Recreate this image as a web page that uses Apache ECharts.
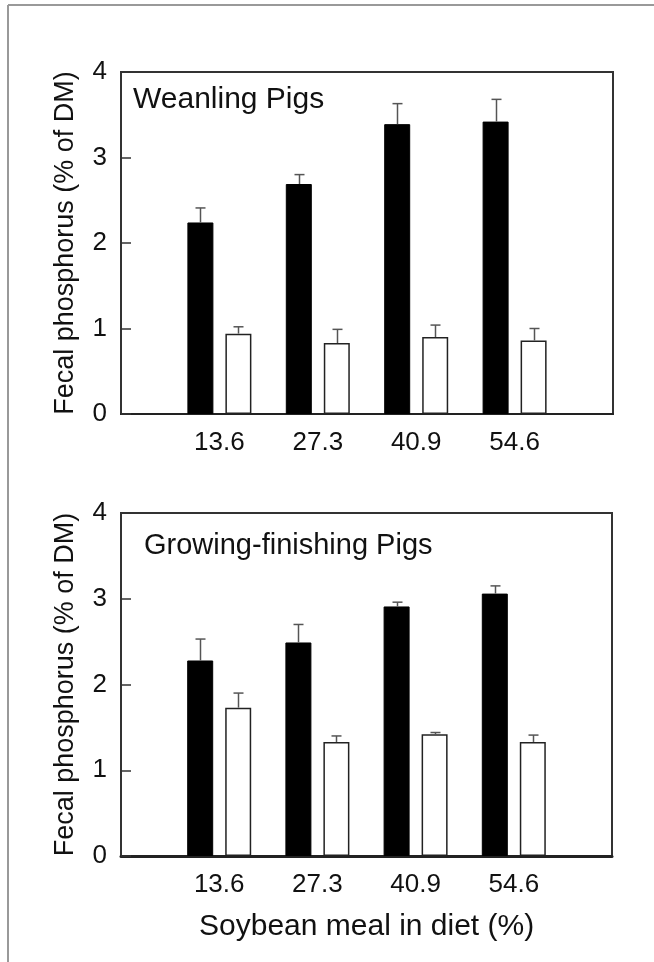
<!DOCTYPE html>
<html>
<head>
<meta charset="utf-8">
<script src="https://cdn.jsdelivr.net/npm/echarts@6/dist/echarts.min.js"></script>
<style>
html,body{margin:0;padding:0;background:#fff;}
#chart{width:654px;height:962px;}
</style>
</head>
<body>
<div id="chart"></div>
<script>
// ---- data ----
const categories = ['13.6', '27.3', '40.9', '54.6'];
const weanBlack = [2.24, 2.69, 3.39, 3.42];
const weanBlackSE = [0.17, 0.11, 0.24, 0.26];
const weanWhite = [0.94, 0.83, 0.90, 0.86];
const weanWhiteSE = [0.08, 0.16, 0.14, 0.14];
const growBlack = [2.28, 2.49, 2.91, 3.06];
const growBlackSE = [0.25, 0.21, 0.05, 0.09];
const growWhite = [1.73, 1.33, 1.42, 1.33];
const growWhiteSE = [0.17, 0.07, 0.02, 0.08];
const yMin = 0, yMax = 4, yStep = 1;
const panelTitles = ['Weanling Pigs', 'Growing-finishing Pigs'];
const yAxisTitle = 'Fecal phosphorus (% of DM)';
const xAxisTitle = 'Soybean meal in diet (%)';

// ---- styling ----
const FONT = 'Liberation Sans, Arial, sans-serif';
const TXT = '#111';
const BAR_W = 26;
const BAR_GAP = 12;
const OFFSET = (BAR_W + BAR_GAP) / 2;
const axisCats = [''].concat(categories, ['']);

function pts(vals) { return vals.map((v, i) => [i + 1, v]); }
function errPts(vals, se) { return vals.map((v, i) => [i + 1, v, +(v + se[i]).toFixed(3)]); }
function errRender(offset) {
  return function (params, api) {
    const x = api.value(0);
    const base = api.coord([x, api.value(1)]);
    const top = api.coord([x, api.value(2)]);
    const cx = Math.round(base[0] + offset) + 0.5;
    const st = { stroke: '#555', lineWidth: 1.5 };
    return {
      type: 'group',
      children: [
        { type: 'line', shape: { x1: cx, y1: base[1], x2: cx, y2: top[1] }, style: st },
        { type: 'line', shape: { x1: cx - 5, y1: top[1], x2: cx + 5, y2: top[1] }, style: st }
      ]
    };
  };
}

function xAxisCfg(gi, lineW) {
  return {
    type: 'category', gridIndex: gi, data: axisCats, boundaryGap: false,
    axisLine: { show: true, lineStyle: { color: '#222', width: lineW } },
    axisTick: { show: false },
    axisLabel: { interval: 0, color: TXT, fontSize: 26, fontFamily: FONT, margin: 16 },
    splitLine: { show: false }
  };
}
function yAxisCfg(gi) {
  return {
    type: 'value', gridIndex: gi, min: yMin, max: yMax, interval: yStep,
    name: yAxisTitle, nameLocation: 'middle', nameGap: 42,
    nameTextStyle: { fontSize: 27, fontFamily: FONT, color: TXT },
    axisLine: { show: true, lineStyle: { color: '#333', width: 2 } },
    axisTick: { show: true, inside: true, length: 10, lineStyle: { color: '#333', width: 1.5 } },
    axisLabel: { color: TXT, fontSize: 26, fontFamily: FONT, margin: 14 },
    splitLine: { show: false }
  };
}
function barSeries(gi, vals, filled) {
  return {
    type: 'bar', xAxisIndex: gi, yAxisIndex: gi, data: pts(vals),
    barWidth: BAR_W, barGap: (BAR_GAP / BAR_W * 100) + '%',
    itemStyle: filled ? { color: '#000', borderColor: '#000', borderWidth: 1 }
                      : { color: '#fff', borderColor: '#222', borderWidth: 1.5 },
    z: 2
  };
}
function errSeries(gi, vals, se, offset) {
  return {
    type: 'custom', xAxisIndex: gi, yAxisIndex: gi, data: errPts(vals, se),
    encode: { x: 0, y: [1, 2] }, renderItem: errRender(offset), z: 3
  };
}

const chart = echarts.init(document.getElementById('chart'), null, { renderer: 'canvas' });
chart.setOption({
  animation: false,
  backgroundColor: '#fff',
  grid: [
    { left: 121, top: 72, width: 492, height: 342, show: true, borderColor: '#333', borderWidth: 2, containLabel: false },
    { left: 121, top: 513, width: 491, height: 343, show: true, borderColor: '#333', borderWidth: 2, containLabel: false }
  ],
  xAxis: [xAxisCfg(0, 2), xAxisCfg(1, 3)],
  yAxis: [yAxisCfg(0), yAxisCfg(1)],
  series: [
    barSeries(0, weanBlack, true),
    barSeries(0, weanWhite, false),
    errSeries(0, weanBlack, weanBlackSE, -OFFSET),
    errSeries(0, weanWhite, weanWhiteSE, OFFSET),
    barSeries(1, growBlack, true),
    barSeries(1, growWhite, false),
    errSeries(1, growBlack, growBlackSE, -OFFSET),
    errSeries(1, growWhite, growWhiteSE, OFFSET)
  ],
  graphic: [
    { type: 'line', shape: { x1: 8, y1: 5, x2: 654, y2: 5 }, style: { stroke: '#999', lineWidth: 2 } },
    { type: 'line', shape: { x1: 8, y1: 5, x2: 8, y2: 962 }, style: { stroke: '#999', lineWidth: 2 } },
    { type: 'text', x: 133, y: 100, style: { text: panelTitles[0], fontSize: 30, fontFamily: FONT, fill: TXT, verticalAlign: 'middle', align: 'left' } },
    { type: 'text', x: 144, y: 546, style: { text: panelTitles[1], fontSize: 29, fontFamily: FONT, fill: TXT, verticalAlign: 'middle', align: 'left' } },
    { type: 'text', x: 199, y: 927, style: { text: xAxisTitle, fontSize: 30, fontFamily: FONT, fill: TXT, verticalAlign: 'middle', align: 'left' } }
  ]
});
</script>
</body>
</html>
